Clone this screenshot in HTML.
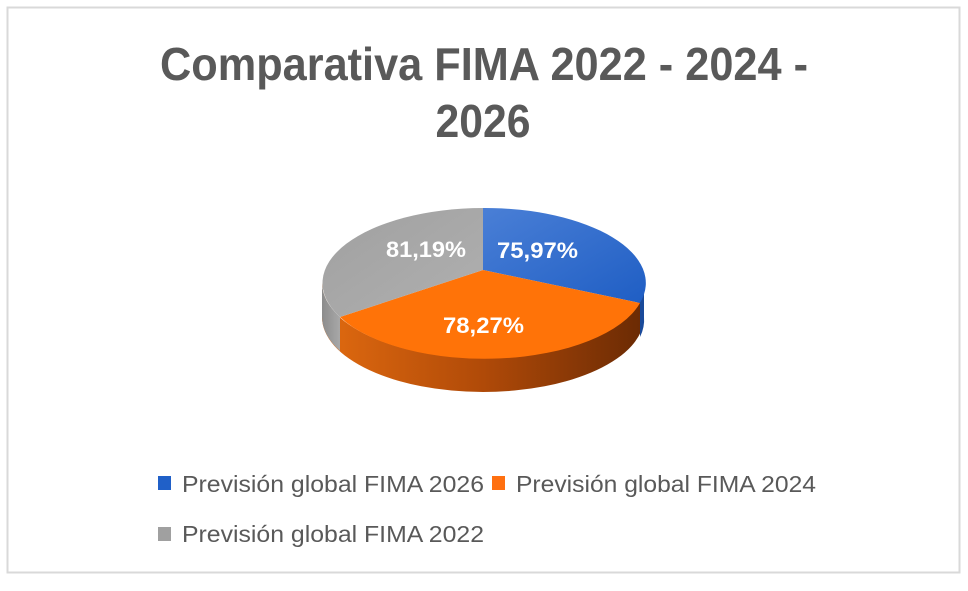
<!DOCTYPE html>
<html><head><meta charset="utf-8"><style>html,body{margin:0;padding:0;background:#fff}</style></head>
<body>
<svg width="968" height="586" viewBox="0 0 968 586" xmlns="http://www.w3.org/2000/svg" font-family="Liberation Sans, sans-serif">
<defs>
<linearGradient id="og" x1="0" x2="1" y1="0" y2="0">
<stop offset="0" stop-color="#e06a10"/><stop offset="0.5" stop-color="#b04a08"/><stop offset="1" stop-color="#6a2a04"/></linearGradient>
<linearGradient id="gg" x1="0" x2="1"><stop offset="0" stop-color="#8c8c8c"/><stop offset="1" stop-color="#a8a8a8"/></linearGradient>
<linearGradient id="bt" x1="0" x2="1" y1="0" y2="1"><stop offset="0" stop-color="#4a7fd6"/><stop offset="1" stop-color="#1f5ec4"/></linearGradient>
<linearGradient id="gt" x1="0" x2="1" y1="0" y2="1"><stop offset="0" stop-color="#a0a0a0"/><stop offset="1" stop-color="#b0b0b0"/></linearGradient>
</defs>
<rect x="7.5" y="7.5" width="952" height="565" fill="#fff" stroke="#d9d9d9" stroke-width="2"/>
<text x="484" y="80" text-anchor="middle" font-size="46" font-weight="bold" fill="#595959" textLength="648" lengthAdjust="spacingAndGlyphs">Comparativa FIMA 2022 - 2024 -</text>
<text x="483" y="137" text-anchor="middle" font-size="46" font-weight="bold" fill="#595959" textLength="95" lengthAdjust="spacingAndGlyphs">2026</text>
<!-- side -->
<path d="M322,283 A161,75 0 0 0 644,283 L644,317 A161,75 0 0 1 322,317 Z" fill="url(#og)"/>
<path d="M322,283 A161,75 0 0 0 340,317 L340,351 A161,75 0 0 1 322,317 Z" fill="url(#gg)"/>
<path d="M640,303 A161,75 0 0 0 644,283 L644,317 A161,75 0 0 1 640,337 Z" fill="#1a4a9a"/>
<!-- top -->
<path d="M483,270 L483,208 A161,75 0 0 1 640,303 Z" fill="url(#bt)"/>
<path d="M483,270 L640,303 A161,75 0 0 1 340,317 Z" fill="#ff7308"/>
<path d="M483,270 L340,317 A161,75 0 0 1 483,208 Z" fill="url(#gt)"/>
<g font-size="22" font-weight="bold" fill="#fff">
<text x="386" y="257" textLength="80" lengthAdjust="spacingAndGlyphs">81,19%</text>
<text x="497" y="258" textLength="81" lengthAdjust="spacingAndGlyphs">75,97%</text>
<text x="443" y="333" textLength="81" lengthAdjust="spacingAndGlyphs">78,27%</text>
</g>
<g font-size="23" fill="#595959">
<rect x="158" y="476" width="13" height="14" fill="#2060c8"/>
<text x="182" y="492" textLength="302" lengthAdjust="spacingAndGlyphs">Previsión global FIMA 2026</text>
<rect x="492" y="476" width="13" height="14" fill="#ff7010"/>
<text x="516" y="492" textLength="300" lengthAdjust="spacingAndGlyphs">Previsión global FIMA 2024</text>
<rect x="158" y="527" width="13" height="14" fill="#a0a0a0"/>
<text x="182" y="542" textLength="302" lengthAdjust="spacingAndGlyphs">Previsión global FIMA 2022</text>
</g>
</svg>
</body></html>
